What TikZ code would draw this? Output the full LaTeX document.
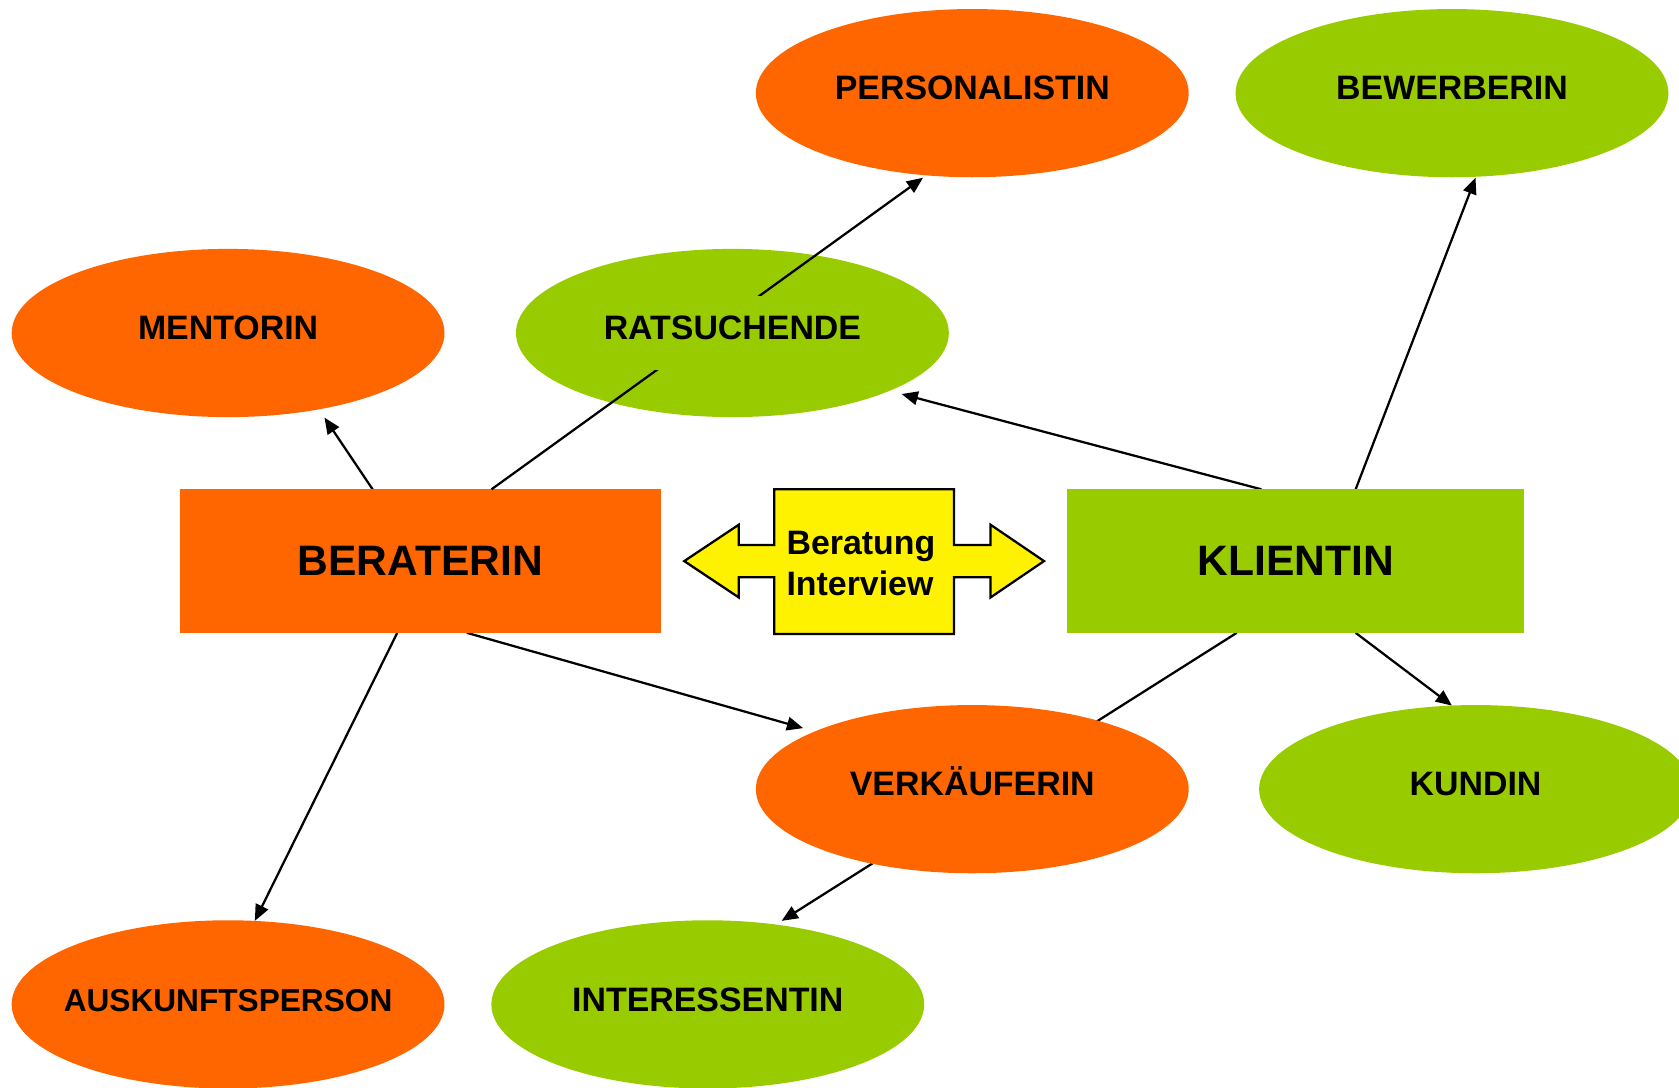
\documentclass[tikz,border=0pt]{standalone}
\usepackage{fontspec}
\setmainfont{Liberation Sans}
\usetikzlibrary{shapes.geometric,arrows.meta,calc,backgrounds}
\definecolor{orng}{HTML}{FF6600}
\definecolor{grn}{HTML}{99CC00}
\begin{document}
\begin{tikzpicture}[x=0.01cm,y=-0.01cm,
  role/.style={ellipse,minimum width=4.04cm,minimum height=1.57cm,inner sep=0pt,outer sep=0pt,
    font=\fontsize{9}{10.8}\selectfont\bfseries,text height=6.4pt,text depth=2.8pt},
  orole/.style={role,fill=orng},
  grole/.style={role,fill=grn},
  rolelabel/.style={rectangle,inner sep=0pt,minimum width=3cm,minimum height=0.69cm,
    font=\fontsize{9}{10.8}\selectfont\bfseries,text height=6.4pt,text depth=2.8pt},
  mainbox/.style={rectangle,inner sep=0pt,outer sep=0pt,minimum height=1.34cm,
    font=\fontsize{11.3}{13.5}\selectfont\bfseries},
  conn/.style={line width=0.6pt,-{Triangle[length=4.3pt,width=3.6pt]}},
  talk/.style={draw=black,fill=yellow,line width=0.6pt,line join=miter},
  talktext/.style={font=\fontsize{9}{10.8}\selectfont\bfseries,align=left,inner sep=0pt}]
\useasboundingbox (0,0) rectangle (1568,1016);

% role ellipses
\node[orole] (pers) at (908,87) {PERSONALISTIN};
\node[grole] (bew)  at (1356,87) {BEWERBERIN};
\node[orole] (ment) at (213,311) {MENTORIN};
\node[grole] (rats) at (684,311) {};
\node[orole] (verk) at (908,737) {VERKÄUFERIN};
\node[grole] (kund) at (1378,737) {KUNDIN};
\node[orole,font=\fontsize{8.4}{10}\selectfont\bfseries] (ausk) at (213,938) {\makebox[0pt]{AUSKUNFTSPERSON}};
\node[grole] (inte) at (661,938) {INTERESSENTIN};

% main boxes
\node[mainbox,fill=orng,minimum width=4.49cm] (bera) at (392.5,524) {BERATERIN};
\node[mainbox,fill=grn,minimum width=4.26cm] (klie) at (1210,524) {KLIENTIN};

% connector over RATSUCHENDE, under its text box
\draw[conn] ($(bera.center)+(66.5,-67)$) -- ($(pers.center)+(-46,79)$);
\node[rolelabel,fill=grn] (ratslabel) at (rats.center) {RATSUCHENDE};

% double arrow
\draw[talk] (639,524) -- (690,490) -- (690,509) -- (723,509) -- (723,457) -- (891,457)
  -- (891,509) -- (925,509) -- (925,490) -- (975,524) -- (925,558) -- (925,539)
  -- (891,539) -- (891,592) -- (723,592) -- (723,539) -- (690,539) -- (690,558) -- cycle;
\node[talktext] (ber) at (804,526) {Beratung\\Interview};

% connectors
\begin{pgfonlayer}{background}
\draw[conn] ($(bera.center)+(-44.5,-67)$) -- ($(ment.center)+(90,79)$);
\draw[conn] ($(klie.center)+(-32,-67)$) -- ($(rats.center)+(158,57)$);
\draw[conn] ($(klie.center)+(56,-67)$) -- ($(bew.center)+(22,79)$);
\draw[conn] ($(bera.center)+(43.5,67)$) -- ($(verk.center)+(-158,-57)$);
\draw[conn] ($(bera.center)+(-21.5,67)$) -- ($(ausk.center)+(25,-78)$);
\draw[conn] ($(klie.center)+(-55,67)$) -- ($(inte.center)+(69,-78)$);
\draw[conn] ($(klie.center)+(56,67)$) -- ($(kund.center)+(-22,-78)$);
\end{pgfonlayer}
\end{tikzpicture}
\end{document}
